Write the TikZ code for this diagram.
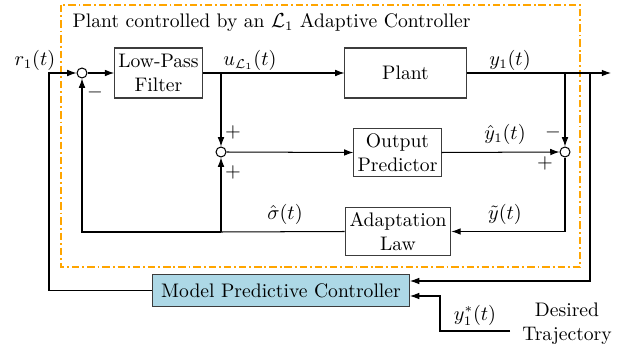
\documentclass[tikz,border=0pt]{standalone}
\usepackage{amsmath,amssymb}
\usetikzlibrary{arrows.meta}
\definecolor{monorange}{RGB}{255,165,0}
\definecolor{monbleu}{RGB}{173,216,230}
\definecolor{mongris}{RGB}{60,60,60}

\begin{document}
\begin{tikzpicture}[x=0.019cm,y=-0.019cm,
	font=\fontsize{10.6pt}{12.8pt}\selectfont,
	bloc/.style={draw=mongris,line width=0.55pt,align=center,inner sep=2pt},
	somme/.style={draw,circle,line width=0.55pt,minimum size=0.19cm,inner sep=0pt},
	fleche/.style={line width=0.55pt,-{Latex[length=5pt,width=3.6pt]}},
	ligne/.style={line width=0.55pt},
	etiq/.style={inner sep=1pt}]
	\useasboundingbox (0,0) rectangle (624,350);
	% Cadre L1 %
	\draw[monorange,thick,dash pattern=on 4pt off 1.6pt on 1pt off 1.6pt] (61,5) rectangle (580,267);
	\node[right] (titre) at (66,22) {Plant controlled by an $\mathcal{L}_1$ Adaptive Controller};
	% Blocs %
	\node[bloc,minimum width=1.65cm,minimum height=0.95cm] (filtre) at (158.5,73) {Low-Pass\\Filter};
	\node[bloc,minimum width=2.3cm,minimum height=0.95cm] (plant) at (405.5,73) {Plant};
	\node[bloc,minimum width=1.65cm,minimum height=0.93cm] (predicteur) at (397.5,152.5) {Output\\Predictor};
	\node[bloc,minimum width=2.01cm,minimum height=0.93cm] (adaptation) at (398,231.5) {Adaptation\\Law};
	\node[bloc,fill=monbleu,minimum width=4.9cm,minimum height=0.59cm] (mpc) at (281,290.5) {Model Predictive Controller};
	\node[align=center] (desire) at (567,324) {Desired\\Trajectory};
	% Sommateurs %
	\node[somme] (s1) at (82,73) {};
	\node[somme] (s2) at (221,152) {};
	\node[somme] (s3) at (565,152) {};
	% Points %
	\coordinate (r) at (49,73);
	\coordinate (bu) at (221,73);
	\coordinate (by) at (565,73);
	\coordinate (bm) at (590,73);
	\coordinate (fin) at (611,73);
	\coordinate (bs) at (221,232);
	\coordinate (mpcA) at (410,281);
	\coordinate (mpcB) at (410,296);
	\coordinate (yd) at (510,331);
	\coordinate (ycoin) at (440,331);
	% Liaisons %
	\draw[fleche] (mpc.west) -| (r) -- (s1.west);
	\draw[fleche] (s1.east) -- (filtre.west);
	\draw[ligne] (filtre.east) -- (bu);
	\draw[fleche] (bu) -- (plant.west);
	\draw[fleche] (bu) -- (s2.north);
	\draw[ligne] (plant.east) -- (by);
	\draw[fleche] (by) -- (fin);
	\draw[fleche] (by) -- (s3.north);
	\draw[fleche] (bm) |- (mpcA);
	\draw[fleche] (s2.east) -- (predicteur.west);
	\draw[fleche] (predicteur.east) -- (s3.west);
	\draw[fleche] (s3.south) |- (adaptation.east);
	\draw[ligne] (adaptation.west) -- (bs);
	\draw[fleche] (bs) -- (s2.south);
	\draw[fleche] (bs) -| (s1.south);
	\draw[fleche] (yd) -- (ycoin) |- (mpcB);
	% Etiquettes %
	\node[etiq] (lr) at (35,60) {$r_1(t)$};
	\node[etiq] (lu) at (250,60) {$u_{\mathcal{L}_1}(t)$};
	\node[etiq] (ly) at (510,60) {$y_1(t)$};
	\node[etiq] (lyh) at (505,134) {$\hat{y}_1(t)$};
	\node[etiq] (lyt) at (505,214) {$\tilde{y}(t)$};
	\node[etiq] (lsig) at (285,214) {$\hat{\sigma}(t)$};
	\node[etiq] (lyd) at (475,315) {$y_1^*(t)$};
	\node[etiq] (m1) at (95,92) {$-$};
	\node[etiq] (p1) at (233,132) {$+$};
	\node[etiq] (p2) at (233,172) {$+$};
	\node[etiq] (m2) at (553,132) {$-$};
	\node[etiq] (p3) at (545,163) {$+$};
\end{tikzpicture}
\end{document}
